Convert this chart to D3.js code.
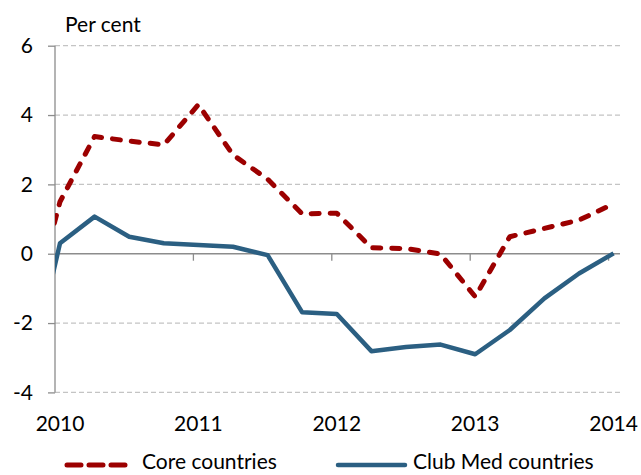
<!DOCTYPE html>
<html>
<head>
<meta charset="utf-8">
<script src="https://cdn.jsdelivr.net/npm/d3@7"></script>
<style>
  body { margin: 0; background: #fff; }
  text { font-family: Lato, "Open Sans", sans-serif; fill: #000; }
</style>
</head>
<body>
<div id="chart"></div>
<script>
// quarterly figures, per cent (first point 2009 Q4 sits just left of the plot area and is clipped)
var quarters = [2009.75, 2010, 2010.25, 2010.5, 2010.75, 2011, 2011.25, 2011.5, 2011.75,
                2012, 2012.25, 2012.5, 2012.75, 2013, 2013.25, 2013.5, 2013.75, 2014];
var coreValues = [-2.3, 1.5, 3.38, 3.25, 3.14, 4.3, 2.85, 2.15, 1.15,
                  1.17, 0.17, 0.15, -0.01, -1.24, 0.49, 0.73, 0.97, 1.44];
var clubMedValues = [-4.0, 0.3, 1.07, 0.49, 0.3, 0.25, 0.2, -0.04, -1.69,
                     -1.74, -2.81, -2.69, -2.62, -2.9, -2.2, -1.29, -0.57, 0.01];
var yearTicks = [2010, 2011, 2012, 2013, 2014];
var valueTicks = [-4, -2, 0, 2, 4, 6];
var seriesNames = ["Core countries", "Club Med countries"];

var width = 641,
    height = 475,
    plotLeft = 55,
    plotRight = 620,
    fontSize = 21;

var svg = d3.select("#chart")
    .append("svg")
    .attr("width", width)
    .attr("height", height);

// years -> pixels (2010 sits a few px right of the axis, as in the source)
var x = d3.scaleLinear()
    .domain([2010, 2014])
    .range([60, 613.6]);

var y = d3.scaleLinear()
    .domain([-4, 6])
    .range([392.4, 45.7]);

// dashed gridlines
svg.append("g")
    .selectAll("line")
    .data(valueTicks.filter(function(d) { return d != 0; }))
    .join("line")
    .attr("x1", plotLeft)
    .attr("x2", plotRight)
    .attr("y1", function(d) { return y(d); })
    .attr("y2", function(d) { return y(d); })
    .attr("stroke", "#c4c4c4")
    .attr("stroke-width", 1.3)
    .attr("stroke-dasharray", "5,3");

// y axis
var yAxis = svg.append("g")
    .attr("transform", "translate(" + plotLeft + ",0)")
    .call(d3.axisLeft(y).tickValues(valueTicks).tickSize(7).tickPadding(15)
        .tickFormat(function(d) { return String(d); }));
yAxis.select(".domain").attr("stroke", "#8c8c8c").attr("stroke-width", 1.3)
    .attr("d", "M0," + y(6) + "V" + y(-4));
yAxis.selectAll(".tick line").attr("stroke", "#8c8c8c").attr("stroke-width", 1.3);
yAxis.selectAll(".tick text").attr("font-size", fontSize).attr("font-family", "Lato").attr("fill", "#000");

// zero line with year ticks
svg.append("line")
    .attr("x1", plotLeft)
    .attr("x2", plotRight)
    .attr("y1", y(0))
    .attr("y2", y(0))
    .attr("stroke", "#8c8c8c")
    .attr("stroke-width", 1.5);

svg.append("g")
    .selectAll("line")
    .data(yearTicks.slice(1))
    .join("line")
    .attr("x1", function(d) { return x(d) - 5; })
    .attr("x2", function(d) { return x(d) - 5; })
    .attr("y1", y(0))
    .attr("y2", y(0) + 7)
    .attr("stroke", "#8c8c8c")
    .attr("stroke-width", 1.3);

// year labels along the bottom
svg.append("g")
    .selectAll("text")
    .data(yearTicks)
    .join("text")
    .attr("x", function(d) { return x(d); })
    .attr("y", 431)
    .attr("text-anchor", "middle")
    .attr("font-size", fontSize)
    .text(function(d) { return d; });

svg.append("text")
    .attr("x", 65)
    .attr("y", 32)
    .attr("font-size", fontSize)
    .text("Per cent");

// clip the lines to the plot area
svg.append("defs").append("clipPath")
    .attr("id", "clip")
    .append("rect")
    .attr("x", plotLeft)
    .attr("y", 30)
    .attr("width", plotRight - plotLeft)
    .attr("height", 380);

var line = d3.line()
    .x(function(d, i) { return x(quarters[i]); })
    .y(function(d) { return y(d); });

var lines = svg.append("g").attr("clip-path", "url(#clip)");

lines.append("path")
    .datum(clubMedValues)
    .attr("fill", "none")
    .attr("stroke", "#2b5f82")
    .attr("stroke-width", 4.5)
    .attr("stroke-linejoin", "round")
    .attr("d", line);

lines.append("path")
    .datum(coreValues)
    .attr("fill", "none")
    .attr("stroke", "#9c0000")
    .attr("stroke-width", 5)
    .attr("stroke-linecap", "round")
    .attr("stroke-linejoin", "round")
    .attr("stroke-dasharray", "8,11")
    .attr("d", line);

// legend
var legend = svg.append("g");
legend.append("line")
    .attr("x1", 67).attr("x2", 125)
    .attr("y1", 465).attr("y2", 465)
    .attr("stroke", "#9c0000")
    .attr("stroke-width", 5)
    .attr("stroke-linecap", "round")
    .attr("stroke-dasharray", "14,8");
legend.append("text")
    .attr("x", 142).attr("y", 469)
    .attr("font-size", fontSize)
    .text(seriesNames[0]);

legend.append("line")
    .attr("x1", 338).attr("x2", 405)
    .attr("y1", 465).attr("y2", 465)
    .attr("stroke", "#2b5f82")
    .attr("stroke-width", 4.5)
    .attr("stroke-linecap", "round");
legend.append("text")
    .attr("x", 413).attr("y", 469)
    .attr("font-size", fontSize)
    .text(seriesNames[1]);
</script>
</body>
</html>
